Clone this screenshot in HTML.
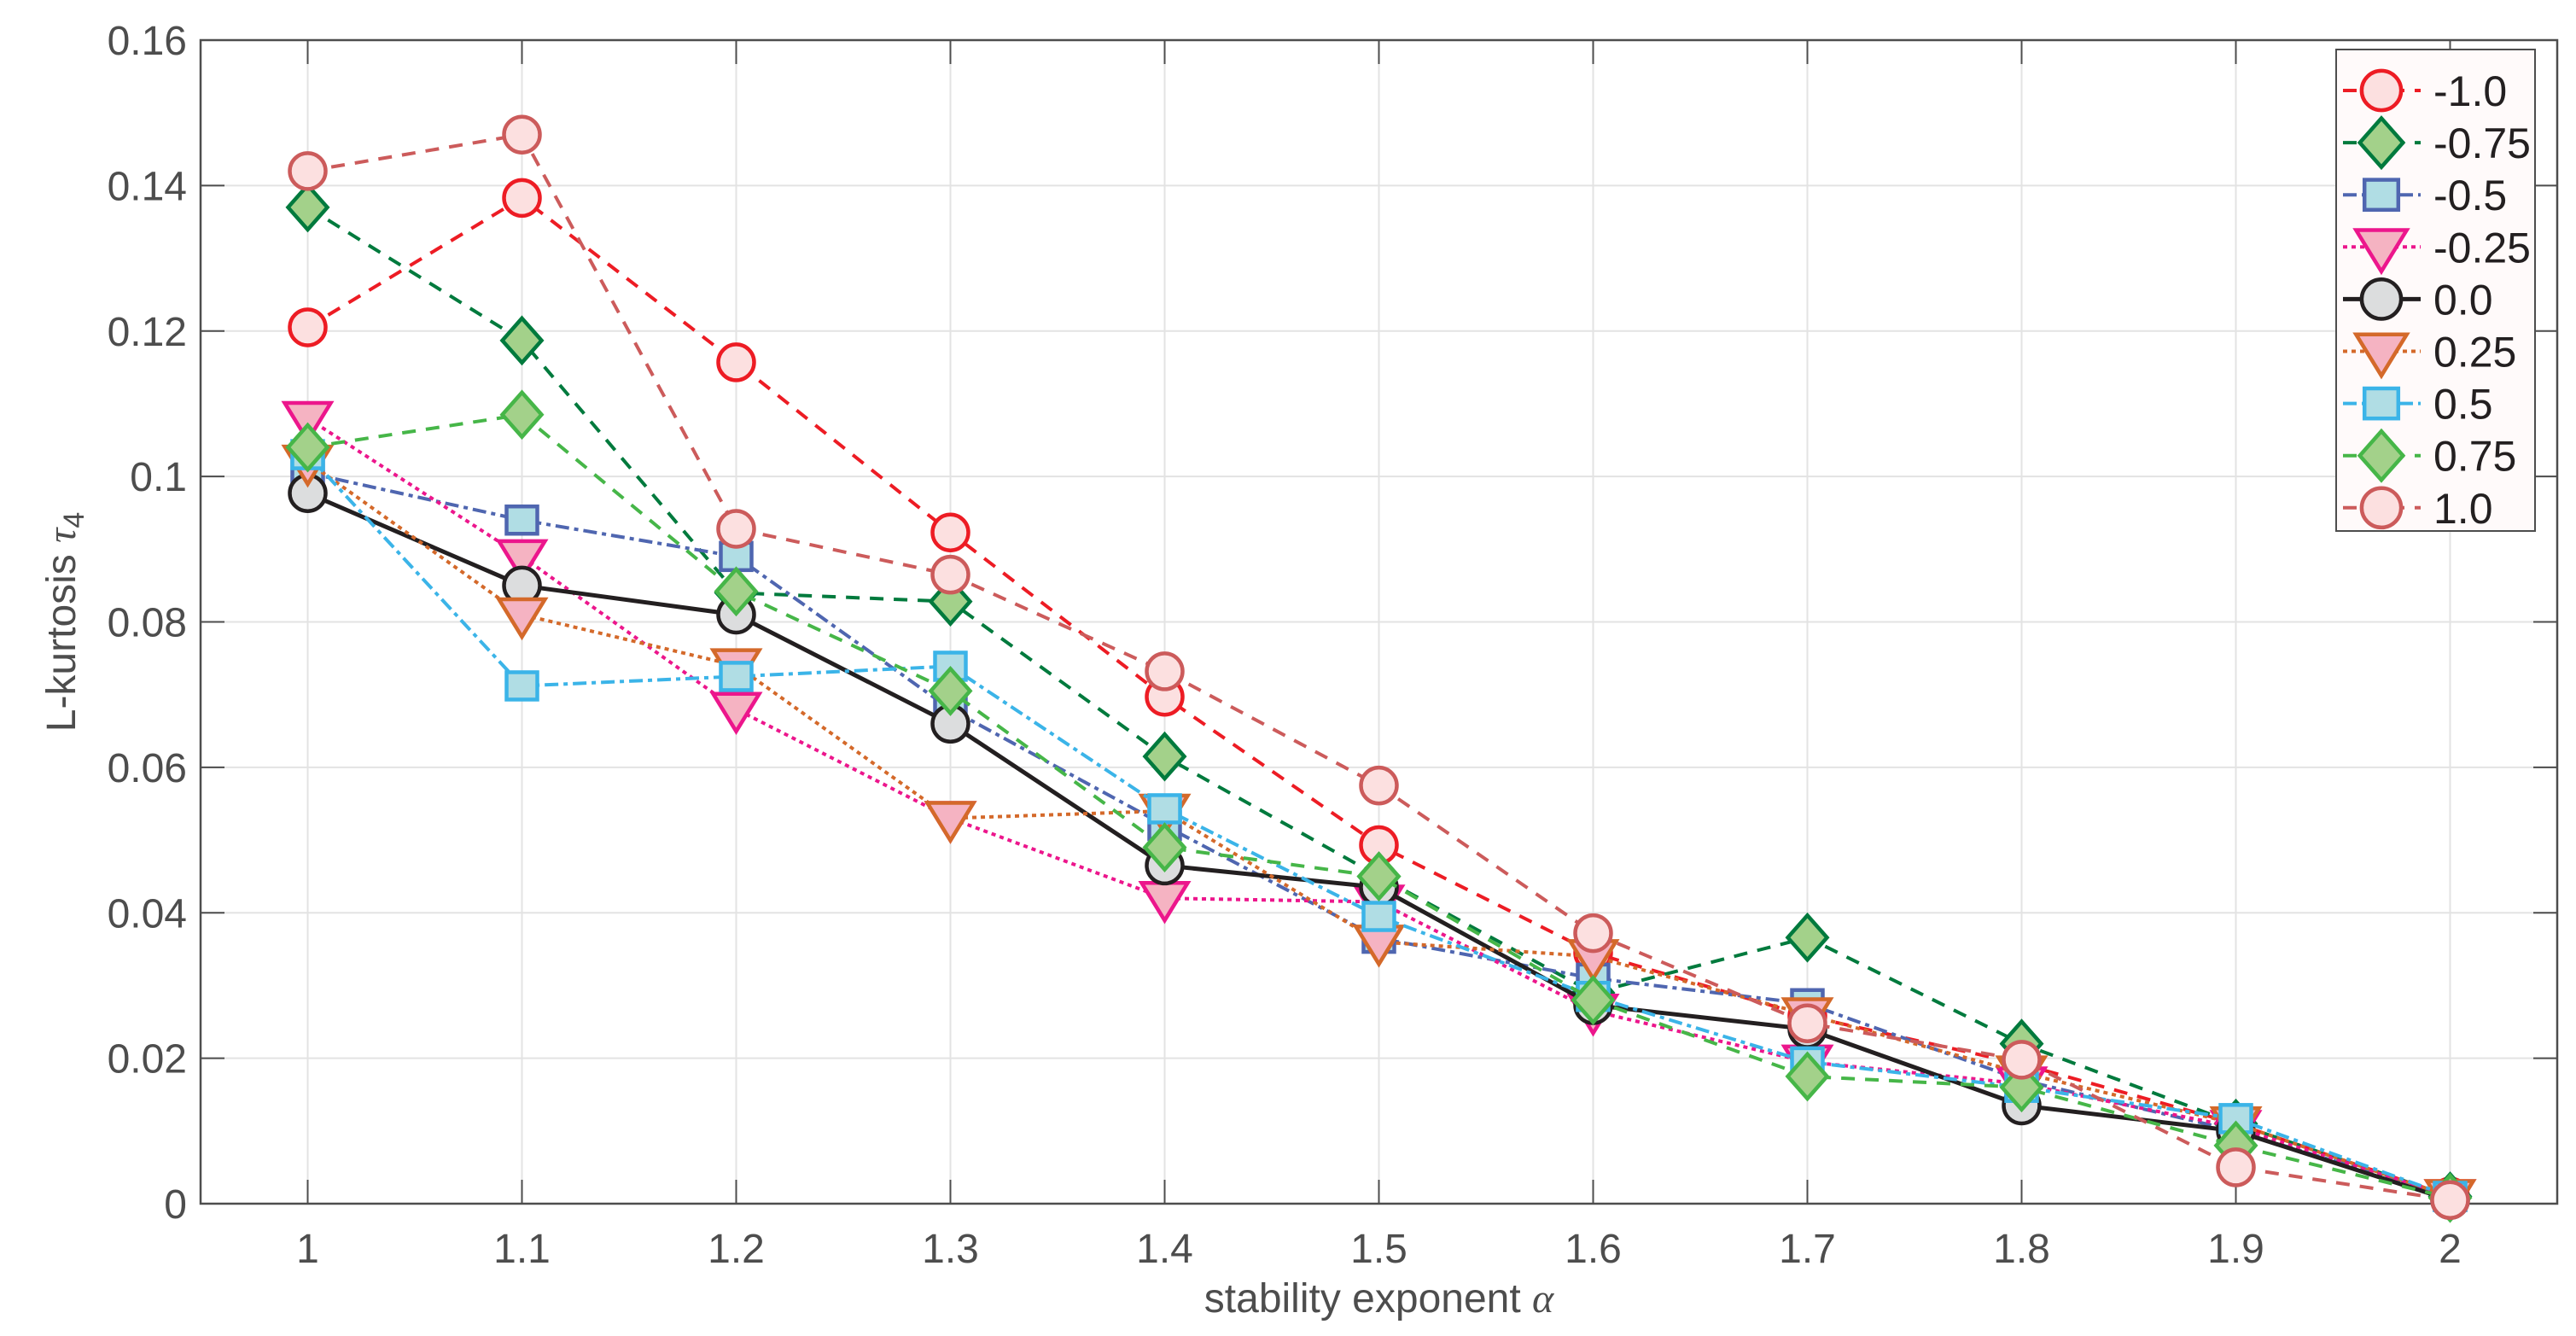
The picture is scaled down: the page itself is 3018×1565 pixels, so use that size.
<!DOCTYPE html>
<html><head><meta charset="utf-8"><style>
html,body{margin:0;padding:0;background:#fff;}
svg{display:block;font-family:"Liberation Sans",Arial,sans-serif;}
</style></head><body>
<svg id="chart" width="3018" height="1565" viewBox="0 0 3018 1565">
<g id="grid"></g>
<g id="axes"></g>
<g id="series"></g>
<g id="legend"></g>
</svg>
<script>
const xValues = [1,1.1,1.2,1.3,1.4,1.5,1.6,1.7,1.8,1.9,2];
const xTickLabels = ["1","1.1","1.2","1.3","1.4","1.5","1.6","1.7","1.8","1.9","2"];
const yTicks = [0,0.02,0.04,0.06,0.08,0.1,0.12,0.14,0.16];
const yTickLabels = ["0","0.02","0.04","0.06","0.08","0.1","0.12","0.14","0.16"];
const seriesNames = ["-1.0","-0.75","-0.5","-0.25","0.0","0.25","0.5","0.75","1.0"];
const sM100 = [0.1205,0.1383,0.1157,0.0923,0.0697,0.0493,0.0345,0.0258,0.0192,0.0110,0.0010];
const sM075 = [0.1370,0.1187,0.0840,0.0828,0.0615,0.0450,0.0290,0.0366,0.0220,0.0110,0.0010];
const sM050 = [0.1005,0.0940,0.0890,0.0680,0.0520,0.0365,0.0310,0.0275,0.0170,0.0100,0.0010];
const sM025 = [0.1080,0.0890,0.0680,0.0530,0.0420,0.0415,0.0265,0.0195,0.0165,0.0105,0.0010];
const sP000 = [0.0977,0.0850,0.0810,0.0660,0.0465,0.0435,0.0273,0.0240,0.0135,0.0100,0.0005];
const sP025 = [0.1020,0.0810,0.0740,0.0530,0.0540,0.0360,0.0340,0.0260,0.0180,0.0110,0.0010];
const sP050 = [0.1030,0.0712,0.0725,0.0739,0.0543,0.0395,0.0285,0.0195,0.0160,0.0117,0.0010];
const sP075 = [0.1040,0.1085,0.0842,0.0705,0.0490,0.0450,0.0280,0.0175,0.0160,0.0080,0.0008];
const sP100 = [0.1420,0.1470,0.0928,0.0865,0.0732,0.0575,0.0372,0.0248,0.0198,0.0050,0.0005];
const seriesData = [sM100,sM075,sM050,sM025,sP000,sP025,sP050,sP075,sP100];

const styles = [
 {c:"#ED1C24",f:"#FCE0E0",m:"circle",d:"16 12"},
 {c:"#007A3D",f:"#A3D18A",m:"diamond",d:"16 12"},
 {c:"#4F66B0",f:"#B0DDE4",m:"square",d:"16 6 5 6"},
 {c:"#EC168C",f:"#F5B3C2",m:"tri",d:"5 5"},
 {c:"#231F20",f:"#DCDDDE",m:"circle",d:""},
 {c:"#D4692A",f:"#F5B3C2",m:"tri",d:"5 5"},
 {c:"#3BB4E8",f:"#B0DDE4",m:"square",d:"16 6 5 6"},
 {c:"#46B648",f:"#A3D18A",m:"diamond",d:"16 12"},
 {c:"#CC5B5B",f:"#FCE0E0",m:"circle",d:"16 12"}
];
const L=235,R=2996,T=47,B=1410;
const xMin=0.95,xMax=2.05,yMin=0,yMax=0.16;
function sx(v){return L+(v-xMin)/(xMax-xMin)*(R-L);}
function sy(v){return B-(v-yMin)/(yMax-yMin)*(B-T);}
const NS="http://www.w3.org/2000/svg";
function el(tag,attrs,parent){const e=document.createElementNS(NS,tag);for(const k in attrs)e.setAttribute(k,attrs[k]);parent.appendChild(e);return e;}
const grid=document.getElementById('grid'),axes=document.getElementById('axes'),ser=document.getElementById('series'),leg=document.getElementById('legend');

el('rect',{x:L,y:T,width:R-L,height:B-T,fill:'#fff'},grid);
xValues.forEach((v,i)=>{
 const x=sx(v);
 const g=el('line',{x1:x,y1:T,x2:x,y2:B,stroke:'#e3e3e3','stroke-width':2},grid);
 
 
 el('line',{x1:x,y1:B,x2:x,y2:B-28,stroke:'#4d4d4d','stroke-width':2},axes);
 el('line',{x1:x,y1:T,x2:x,y2:T+28,stroke:'#4d4d4d','stroke-width':2},axes);
 const t=el('text',{x:x,y:B+69,'text-anchor':'middle','font-size':48,fill:'#4d4d4d'},axes);
 t.textContent=xTickLabels[i];
 
 
});
yTicks.forEach((v,i)=>{
 const y=sy(v);
 const g=el('line',{x1:L,y1:y,x2:R,y2:y,stroke:'#e3e3e3','stroke-width':2},grid);
 
 
 el('line',{x1:L,y1:y,x2:L+28,y2:y,stroke:'#4d4d4d','stroke-width':2},axes);
 el('line',{x1:R,y1:y,x2:R-28,y2:y,stroke:'#4d4d4d','stroke-width':2},axes);
 const t=el('text',{x:L-16,y:y+17,'text-anchor':'end','font-size':48,fill:'#4d4d4d'},axes);
 t.textContent=yTickLabels[i];
 
 
});
el('rect',{x:L,y:T,width:R-L,height:B-T,fill:'none',stroke:'#4d4d4d','stroke-width':2.5},axes);
const xl=el('text',{x:(L+R)/2,y:1537,'text-anchor':'middle','font-size':48,fill:'#4d4d4d'},axes);
xl.innerHTML='stability exponent <tspan font-style="italic" font-family="Liberation Serif">α</tspan>';


const yl=el('text',{x:0,y:0,'text-anchor':'middle','font-size':48,fill:'#4d4d4d',transform:'translate(88,'+((T+B)/2)+') rotate(-90)'},axes);
yl.innerHTML='L-kurtosis <tspan font-style="italic" font-family="Liberation Serif">τ</tspan><tspan font-size="34" dy="10">4</tspan>';



function marker(type,x,y,s,parent,k){
 k=k||1;let e;
 if(type==='circle') e=el('circle',{cx:x,cy:y,r:21*k},parent);
 else if(type==='diamond') e=el('polygon',{points:`${x},${y-26*k} ${x+23*k},${y} ${x},${y+26*k} ${x-23*k},${y}`},parent);
 else if(type==='square') e=el('rect',{x:x-18*k,y:y-16*k,width:36*k,height:32*k},parent);
 else e=el('polygon',{points:`${x-27*k},${y-18*k} ${x+27*k},${y-18*k} ${x},${y+26*k}`},parent);
 e.setAttribute('fill',s.f);e.setAttribute('stroke',s.c);e.setAttribute('stroke-width',4.5);
 return e;
}
seriesData.forEach((data,k)=>{
 const s=styles[k];
 const g=el('g',{},ser);
 
 
 const pts=data.map((v,i)=>sx(xValues[i])+','+sy(v)).join(' ');
 const pl=el('polyline',{points:pts,fill:'none',stroke:s.c,'stroke-width':s.d?4:5,'stroke-dasharray':s.d},g);
 
 
 data.forEach((v,i)=>{
  const m=marker(s.m,sx(xValues[i]),sy(v),s,g);
  
  
 });
});
// legend
const lx=2737,ly=58,lw=233,lh=564;
el('rect',{x:lx,y:ly,width:lw,height:lh,fill:'#fffafa',stroke:'#4d4d4d','stroke-width':2},leg);
seriesNames.forEach((n,k)=>{
 const s=styles[k];const cy=106+k*61.1;
 const g=el('g',{},leg);
 
 
 el('line',{x1:2745,y1:cy,x2:2836,y2:cy,stroke:s.c,'stroke-width':s.d?4:5,'stroke-dasharray':s.d},g);
 marker(s.m,2790,cy,s,g,1.1);
 const t=el('text',{x:2851,y:cy+18,'font-size':50,fill:'#231F20'},g);
 t.textContent=n;
});
</script>
</body></html>
